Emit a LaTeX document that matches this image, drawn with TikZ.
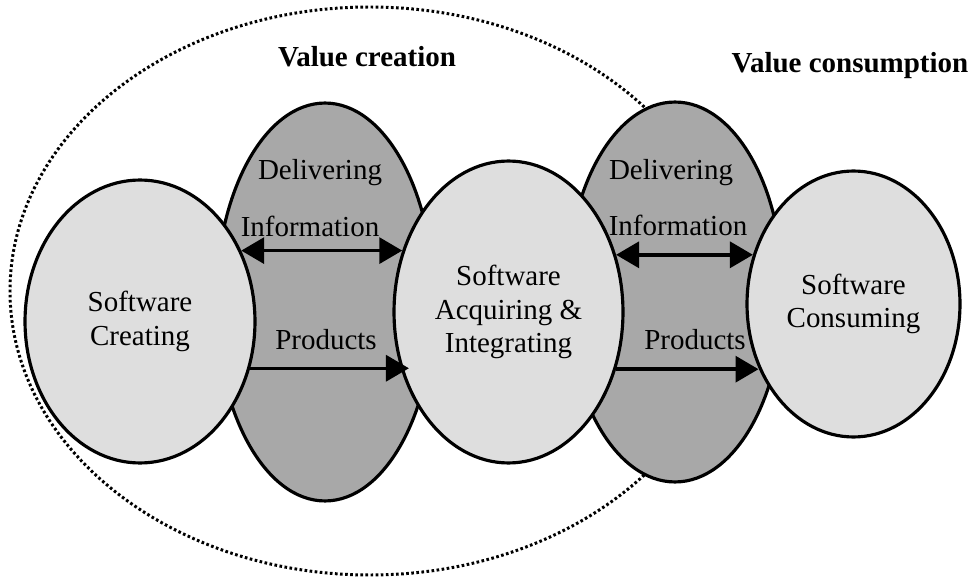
\documentclass[tikz,border=0pt]{standalone}
\usepackage{fontspec}
\setmainfont{Liberation Serif}
\usetikzlibrary{arrows.meta,shapes.geometric}
\definecolor{lightfill}{gray}{0.87}
\definecolor{darkfill}{gray}{0.66}
\tikzset{
  lightell/.style={ellipse, draw, line width=1.8pt, fill=lightfill, inner sep=0pt, align=center},
  darkell/.style={ellipse, draw, line width=1.8pt, fill=darkfill, inner sep=0pt},
  oneway/.style={line width=2pt, -{Triangle[length=4.6mm,width=5.2mm]}},
  twoway/.style={line width=2pt, {Triangle[length=4.6mm,width=5.2mm]}-{Triangle[length=4.6mm,width=5.2mm]}},
  heading/.style={anchor=base, font=\fontsize{16.5pt}{19pt}\selectfont\bfseries}
}
\begin{document}
\begin{tikzpicture}[x=0.02cm, y=-0.02cm, font=\fontsize{16.5pt}{19pt}\selectfont]
\useasboundingbox (0,0) rectangle (973,577);
% dotted boundary round the creating side
\draw[line width=1.7pt, dash pattern=on 1.5pt off 1.4pt] (370,291) ellipse [x radius=360, y radius=284];

\node[darkell, minimum width=4.36cm, minimum height=7.96cm] (flowA) at (325,302) {};
\node[darkell, minimum width=4.32cm, minimum height=7.6cm] (flowB) at (675,292) {};
\node[lightell, minimum width=4.6cm, minimum height=5.66cm] (create) at (140,321.5) {Software\\Creating};
\node[lightell, minimum width=4.58cm, minimum height=6.04cm] (acquire) at (508.5,312) {Software\\Acquiring \&\\Integrating};
\node[lightell, minimum width=4.26cm, minimum height=5.32cm] (consume) at (853.5,304) {Software\\Consuming};

\draw[twoway] (create.35) -- (create.35 -| acquire.150);
\draw[oneway, shorten >=-0.16cm] (create.-23) -- (create.-23 -| acquire.208);
\draw[twoway] (acquire.28) -- (acquire.28 -| consume.154);
\draw[oneway] (acquire.-28) -- (acquire.-28 -| consume.214);

\node[anchor=base] (delA) at (320,180) {Delivering};
\node[anchor=base] (infoA) at (310,237) {Information};
\node[anchor=base] (prodA) at (326,349) {Products};
\node[anchor=base] (delB) at (671,180) {Delivering};
\node[anchor=base] (infoB) at (678,236) {Information};
\node[anchor=base] (prodB) at (695,349) {Products};

\node[heading] (creation) at (367,67) {Value creation};
\node[heading] (consumption) at (850,73) {Value consumption};
\end{tikzpicture}
\end{document}
